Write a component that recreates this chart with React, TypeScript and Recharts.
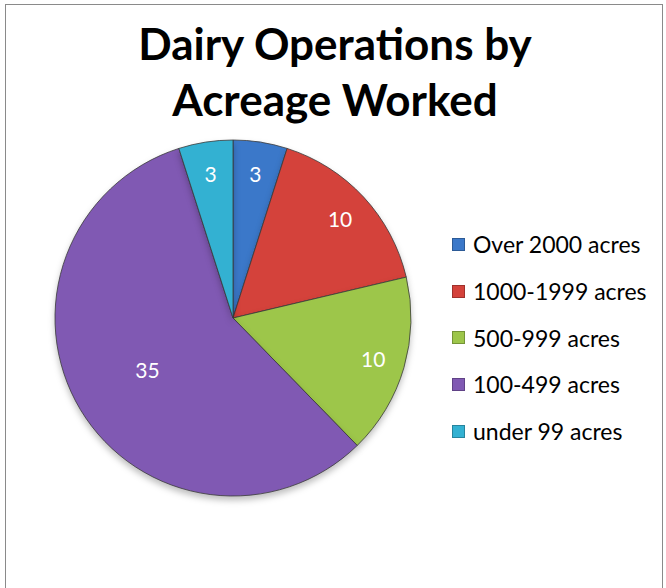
import { Cell, Legend, Pie, PieChart } from "recharts"

const categories = ["Over 2000 acres", "1000-1999 acres", "500-999 acres", "100-499 acres", "under 99 acres"]
const counts = [3, 10, 10, 35, 3]
const colors = ["#3b78c9", "#d4423b", "#9dc64a", "#8059b3", "#33b1d2"]

const data = categories.map((name, i) => ({ name, value: counts[i] }))

const RADIAN = Math.PI / 180

const renderLabel = (props: any) => {
    const { cx, cy, midAngle, outerRadius, value } = props
    const r = outerRadius * (value > 30 ? 0.56 : 0.82)
    const x = cx + r * Math.cos(-midAngle * RADIAN)
    const y = cy + r * Math.sin(-midAngle * RADIAN)
    return (
        <text x={x} y={y} fill="#fff" fontSize={21} textAnchor="middle" dominantBaseline="central"
            fontFamily="Lato, 'Open Sans', sans-serif">
            {value}
        </text>
    )
}

const LegendBox = () => (
    <div style={{ fontFamily: "Lato, 'Open Sans', sans-serif", fontSize: 23, color: "#000" }}>
        {categories.map((c, i) => (
            <div key={c} style={{ display: "flex", alignItems: "center", height: 46.7, whiteSpace: "nowrap" }}>
                <span style={{
                    width: 13, height: 13, marginRight: 8, display: "inline-block", flexShrink: 0,
                    background: colors[i], border: "1px solid rgba(0,0,0,0.25)", boxSizing: "border-box"
                }} />
                {c}
            </div>
        ))}
    </div>
)

const App = () => {
    return <div style={{ position: "relative", width: 666, height: 588, background: "#fff" }}>
        <style>{`body{margin:0}`}</style>
        <div style={{
            position: "absolute", left: 5, top: 4, width: 658, height: 600,
            border: "1px solid #8a8a8a", boxSizing: "border-box"
        }} />
        <div style={{
            position: "absolute", left: 0, top: 15, width: 670, textAlign: "center",
            fontFamily: "Lato, 'Open Sans', sans-serif", fontWeight: 700, fontSize: 44, lineHeight: "56px", color: "#000"
        }}>
            Dairy Operations by<br />Acreage Worked
        </div>
        <div style={{ position: "absolute", left: 0, top: 0 }}>
            <PieChart width={666} height={588} margin={{ top: 0, right: 0, bottom: 0, left: 0 }}>
                <Legend
                    layout="vertical"
                    verticalAlign="top"
                    align="right"
                    wrapperStyle={{ left: 452, top: 221, right: "auto", width: 210 }}
                    content={<LegendBox />}
                />
                <Pie
                    data={data}
                    dataKey="value"
                    nameKey="name"
                    cx={233}
                    cy={318}
                    outerRadius={178}
                    startAngle={90}
                    endAngle={-270}
                    stroke="#3a3a3a"
                    strokeWidth={0.8}
                    label={renderLabel}
                    labelLine={false}
                    isAnimationActive={false}
                    style={{ filter: "drop-shadow(0px 4px 3px rgba(0,0,0,0.25))" }}
                >
                    {data.map((d, i) => <Cell key={d.name} fill={colors[i]} />)}
                </Pie>
            </PieChart>
        </div>
    </div>
}

export default App
